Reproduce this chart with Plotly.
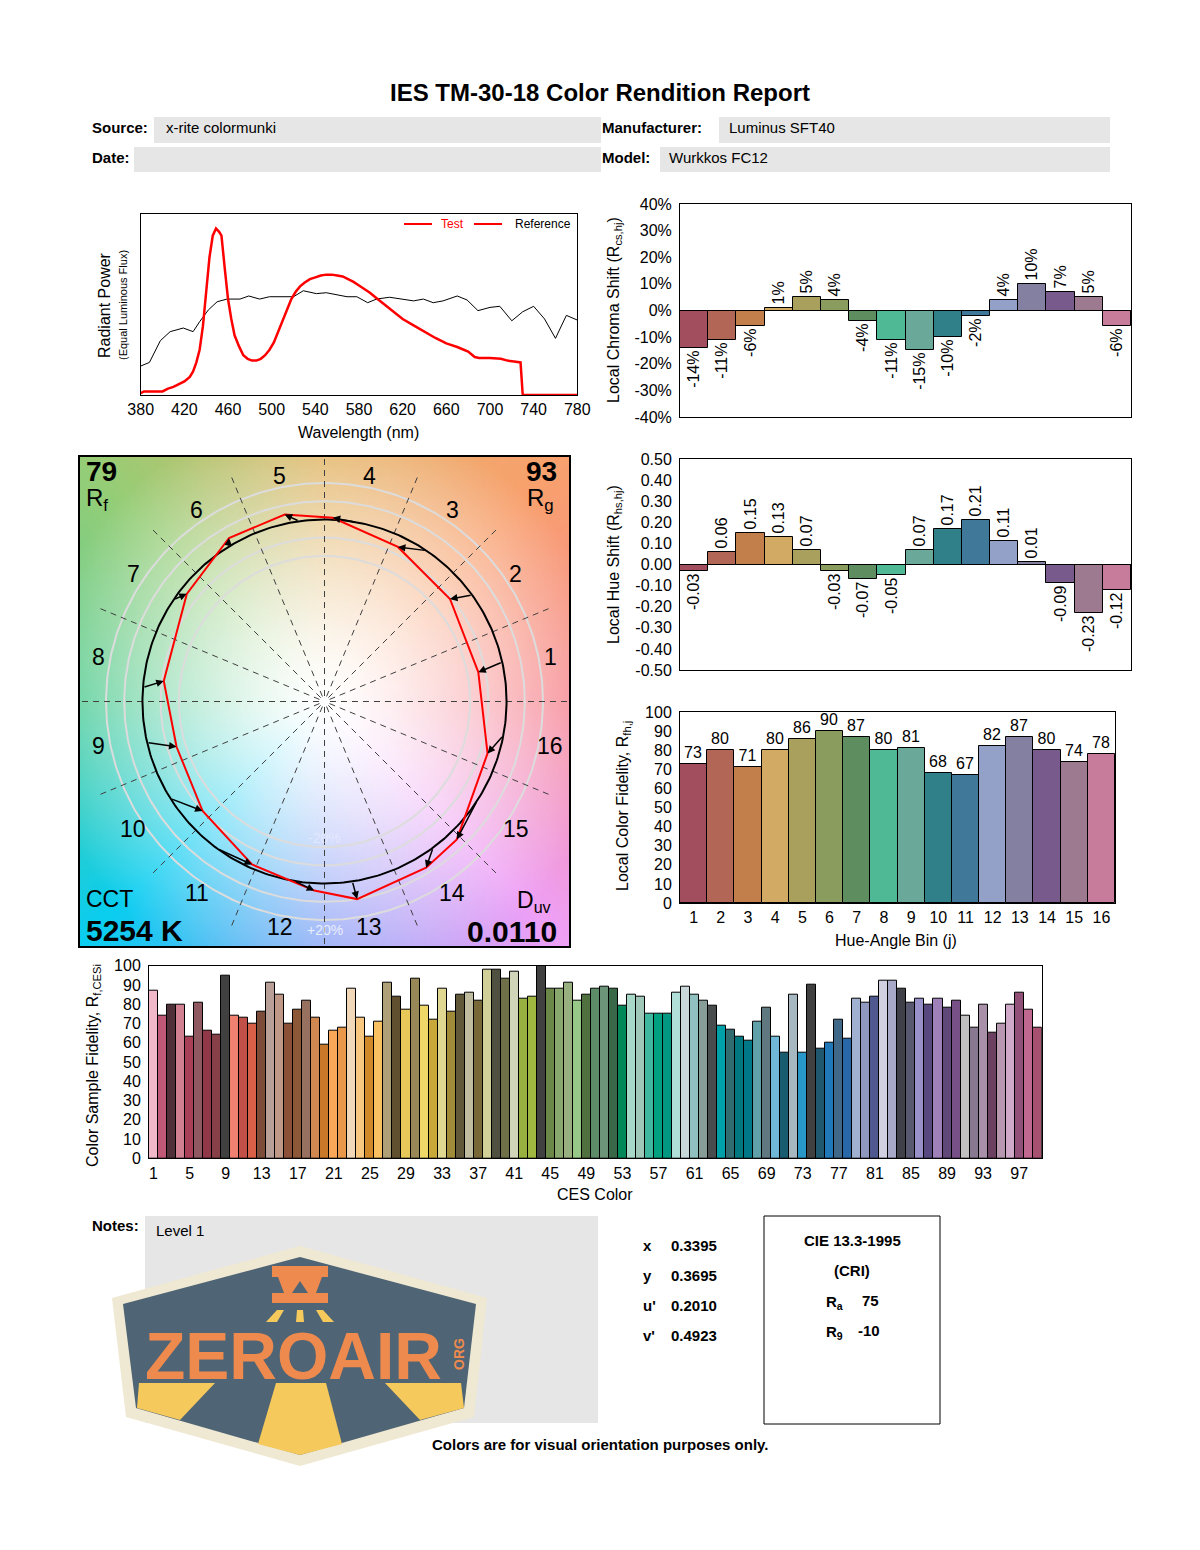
import numpy as np
import plotly.graph_objects as go

W, H = 1200, 1550
OFF = 8  # page body margin of the browser, compensated in every pixel position
FONT = "Liberation Sans, Arial, Helvetica, sans-serif"

# ---------------- data ----------------
wl_test = [380, 383, 400, 405, 410, 415, 420, 425, 428, 431, 434, 437, 440, 443, 446, 449, 452, 454, 457, 460,
           463, 466, 470, 474, 478, 482, 486, 490, 494, 498, 502, 506, 510, 514, 518, 522, 526, 530, 535, 540,
           545, 550, 555, 560, 565, 570, 575, 580, 585, 590, 595, 600, 610, 620, 630, 640, 650, 660, 670, 680,
           686, 690, 700, 710, 716, 722, 728, 730, 780]
test_spd = [0.01, 0.02, 0.02, 0.035, 0.045, 0.06, 0.075, 0.10, 0.13, 0.18, 0.25, 0.38, 0.58, 0.76, 0.88, 0.92, 0.90, 0.88, 0.70, 0.53,
            0.42, 0.33, 0.27, 0.22, 0.20, 0.19, 0.19, 0.20, 0.22, 0.25, 0.29, 0.35, 0.41, 0.48, 0.53, 0.57, 0.60, 0.62, 0.64, 0.65,
            0.66, 0.665, 0.665, 0.66, 0.655, 0.64, 0.625, 0.605, 0.585, 0.565, 0.54, 0.515, 0.465, 0.42, 0.385, 0.35, 0.315, 0.285, 0.265, 0.24,
            0.21, 0.205, 0.205, 0.20, 0.19, 0.185, 0.18, 0.0, 0.0]

wl_ref = [380, 388, 398, 407, 419, 428, 434, 442, 450, 459, 471, 479, 489, 498, 520, 529, 541, 550, 569, 578,
          588, 596, 608, 620, 630, 639, 648, 657, 670, 679, 689, 700, 709, 720, 730, 740, 750, 760, 770, 780]
ref_spd = [0.16, 0.18, 0.30, 0.35, 0.37, 0.35, 0.405, 0.47, 0.515, 0.53, 0.53, 0.547, 0.53, 0.543, 0.543, 0.576, 0.56, 0.565, 0.543, 0.543,
           0.51, 0.53, 0.54, 0.53, 0.52, 0.53, 0.51, 0.52, 0.547, 0.525, 0.466, 0.484, 0.49, 0.41, 0.46, 0.49, 0.42, 0.313, 0.44, 0.414]

bins = list(range(1, 17))
chroma_shift = [-0.14, -0.11, -0.06, 0.01, 0.05, 0.04, -0.04, -0.11, -0.15, -0.10, -0.02, 0.04, 0.10, 0.07, 0.05, -0.06]
hue_shift = [-0.03, 0.06, 0.15, 0.13, 0.07, -0.03, -0.07, -0.05, 0.07, 0.17, 0.21, 0.11, 0.01, -0.09, -0.23, -0.12]
fidelity = [73, 80, 71, 80, 86, 90, 87, 80, 81, 68, 67, 82, 87, 80, 74, 78]
bin_colors = ["#a24e5e", "#b26656", "#c37f4b", "#d2aa64", "#a9a05e", "#8a9c5e", "#5e8d5f", "#4fb996",
              "#6aa99a", "#30808a", "#3f7898", "#93a1c8", "#8480a1", "#785a8d", "#9e7a90", "#c67c9a"]
ref_hue_deg = [12.5, 35.8, 56, 80, 98, 122, 146, 175.6, 193, 212.2, 234, 260.6, 278.8, 306.6, 327, 349.2]

ces_values = [87, 74, 80, 80, 63, 81, 66, 64, 95, 74,
              73, 70, 76, 91, 85, 70, 77, 82, 73, 59,
              66, 68, 88, 73, 63, 71, 91, 84, 77, 93,
              79, 72, 88, 76, 85, 86, 82, 98, 98, 93,
              97, 83, 84, 100, 88, 88, 91, 82, 85, 88,
              89, 88, 79, 85, 84, 75, 75, 75, 86, 89,
              85, 82, 79, 69, 67, 63, 61, 71, 78, 63,
              55, 85, 55, 90, 57, 60, 72, 62, 83, 81,
              84, 92, 92, 88, 81, 83, 80, 83, 78, 82,
              74, 68, 80, 65, 70, 80, 86, 77, 68]
ces_colors = ["#f0b8c8", "#c05878", "#503038", "#d08090", "#a84058", "#905860", "#903848", "#884048", "#404040", "#f08070",
              "#c05048", "#d86048", "#7c4c38", "#b8a098", "#c09888", "#8c5038", "#8c5838", "#987060", "#d08850", "#c87828",
              "#f8a858", "#e89848", "#f0d8b8", "#f8c880", "#d08828", "#f8c060", "#b0a078", "#605030", "#e8c858", "#988858",
              "#f0d868", "#c8a838", "#e0d890", "#a08c38", "#605838", "#c0bca0", "#786838", "#d0d098", "#505040", "#707048",
              "#d0d4b8", "#98b040", "#a0b840", "#404040", "#6c8848", "#88a870", "#98b080", "#98c888", "#507040", "#5c8c68",
              "#6c9478", "#386848", "#008858", "#a8d8c8", "#a0c8b8", "#40b8a0", "#00a080", "#009880", "#b0e0d8", "#c8d8d8",
              "#90c0c0", "#889c98", "#484c4c", "#00a0a8", "#306c70", "#007880", "#007888", "#60a0a8", "#607880", "#70b8d8",
              "#185c70", "#a8b8c0", "#2898c8", "#404040", "#205870", "#2078b8", "#406888", "#2868a8", "#a0b0d0", "#9098c0",
              "#505890", "#d0d0e0", "#a8a8c8", "#404048", "#585870", "#9890c8", "#584880", "#a080b8", "#604878", "#785088",
              "#c0c0c0", "#887890", "#a890a8", "#6c4060", "#b898b0", "#d0a8c8", "#905078", "#c06890", "#a85070"]
ces_ticks = list(range(1, 100, 4))

chroma_ticks = [0.4, 0.3, 0.2, 0.1, 0.0, -0.1, -0.2, -0.3, -0.4]
chroma_ticktext = ["40%", "30%", "20%", "10%", "0%", "-10%", "-20%", "-30%", "-40%"]
hue_ticks = [0.5, 0.4, 0.3, 0.2, 0.1, 0.0, -0.1, -0.2, -0.3, -0.4, -0.5]
hue_ticktext = ["0.50", "0.40", "0.30", "0.20", "0.10", "0.00", "-0.10", "-0.20", "-0.30", "-0.40", "-0.50"]
spec_ticks = list(range(380, 781, 40))

Rf, Rg, CCT, Duv = "79", "93", "5254 K", "0.0110"
chrom = [("x", "0.3395"), ("y", "0.3695"), ("u'", "0.2010"), ("v'", "0.4923")]
Ra, R9 = "75", "-10"

# ---------------- helpers ----------------
def PX(x):
    return (x - OFF) / W

def PY(y):
    return 1 - (y - OFF) / H

def dx_(a, b):
    return [PX(a), PX(b)]

def dy_(top, bottom):
    return [PY(bottom), PY(top)]

ann = []
shapes = []

def txt(x, y, s, size=15, bold=False, color="black", xa="left", ya="middle", angle=0, family=FONT):
    ann.append(dict(x=PX(x), y=PY(y), xref="paper", yref="paper",
                    text=f"<b>{s}</b>" if bold else s, showarrow=False,
                    font=dict(size=size, color=color, family=family),
                    xanchor=xa, yanchor=ya, textangle=angle))

def rect(x0, y0, x1, y1, fill="#e6e6e6", line_color=None, lw=0, layer="below"):
    shapes.append(dict(type="rect", xref="paper", yref="paper",
                       x0=PX(x0), x1=PX(x1), y0=PY(y1), y1=PY(y0),
                       fillcolor=fill, line=dict(color=line_color or fill, width=lw), layer=layer))

def poly(pts, fill, layer="above"):
    d = "M " + " L ".join(f"{PX(x):.5f},{PY(y):.5f}" for x, y in pts) + " Z"
    shapes.append(dict(type="path", xref="paper", yref="paper", path=d,
                       fillcolor=fill, line=dict(width=0), layer=layer))

def hline(x0, x1, y, color, w=2):
    shapes.append(dict(type="line", xref="paper", yref="paper", x0=PX(x0), x1=PX(x1),
                       y0=PY(y), y1=PY(y), line=dict(color=color, width=w), layer="above"))

fig = go.Figure()

# ---------------- spectrum ----------------
fig.add_trace(go.Scatter(x=wl_ref, y=ref_spd, mode="lines", line=dict(color="black", width=1),
                         xaxis="x", yaxis="y", hoverinfo="skip"))
fig.add_trace(go.Scatter(x=wl_test, y=test_spd, mode="lines", line=dict(color="#ff0000", width=2.5),
                         xaxis="x", yaxis="y", hoverinfo="skip"))

# ---------------- vector graphic ----------------
LIM = 1.343
N = 161
c = np.linspace(-LIM, LIM, N)
X, Y = np.meshgrid(c, c)
R = np.hypot(X, Y)
TH = np.degrees(np.arctan2(Y, X)) % 360
anchor_deg = [0, 45, 90, 135, 180, 225, 270, 315, 360]
anchor_rgb = np.array([[246, 136, 146], [248, 160, 110], [226, 180, 100], [150, 205, 118],
                       [85, 205, 150], [10, 205, 240], [140, 165, 246], [238, 160, 246], [246, 136, 146]])
hue_rgb = np.stack([np.interp(TH, anchor_deg, anchor_rgb[:, k]) for k in range(3)], axis=-1)
S = np.clip(0.8 * (R / 1.343) ** 1.34, 0, 1)[..., None]
img = 255 * (1 - S) + hue_rgb * S
z = img.round().astype(np.uint8).tolist()
step = 2 * LIM / (N - 1)
fig.add_trace(go.Image(z=z, x0=-LIM, y0=-LIM, dx=step, dy=step, xaxis="x2", yaxis="y2",
                       hoverinfo="skip", zsmooth="fast"))

t = np.linspace(0, 2 * np.pi, 361)
for rr in [0.8, 0.9, 1.1, 1.2]:
    fig.add_trace(go.Scatter(x=rr * np.cos(t), y=rr * np.sin(t), mode="lines",
                             line=dict(color="#dcdcdc", width=2), xaxis="x2", yaxis="y2", hoverinfo="skip"))
lx, ly = [], []
for k in range(16):
    a = np.radians(k * 22.5)
    lx += [0.03 * np.cos(a), 1.335 * np.cos(a), None]
    ly += [0.03 * np.sin(a), 1.335 * np.sin(a), None]
fig.add_trace(go.Scatter(x=lx, y=ly, mode="lines", line=dict(color="#404040", width=1, dash="6px,5px"),
                         xaxis="x2", yaxis="y2", hoverinfo="skip"))
fig.add_trace(go.Scatter(x=np.cos(t), y=np.sin(t), mode="lines", line=dict(color="black", width=2),
                         xaxis="x2", yaxis="y2", hoverinfo="skip"))

ref_a = np.radians(ref_hue_deg)
test_a = ref_a + np.array(hue_shift)
test_r = 1 + np.array(chroma_shift)
tx = test_r * np.cos(test_a)
ty = test_r * np.sin(test_a)
fig.add_trace(go.Scatter(x=list(tx) + [tx[0]], y=list(ty) + [ty[0]], mode="lines",
                         line=dict(color="#ff0000", width=2), xaxis="x2", yaxis="y2", hoverinfo="skip"))
for k in range(16):
    ann.append(dict(x=tx[k], y=ty[k], ax=np.cos(ref_a[k]), ay=np.sin(ref_a[k]),
                    xref="x2", yref="y2", axref="x2", ayref="y2", text="", showarrow=True,
                    arrowhead=2, arrowsize=1, arrowwidth=1.5, arrowcolor="black", standoff=0))
for j in bins:
    a = np.radians((j - 0.5) * 22.5)
    ann.append(dict(x=1.265 * np.cos(a), y=1.265 * np.sin(a), xref="x2", yref="y2", text=str(j),
                    showarrow=False, font=dict(size=23, family=FONT, color="black")))
ann.append(dict(x=0, y=-1.255, xref="x2", yref="y2", text="+20%", showarrow=False,
                font=dict(size=14, family=FONT, color="rgba(255,255,255,0.75)")))
ann.append(dict(x=0, y=-0.75, xref="x2", yref="y2", text="-20%", showarrow=False,
                font=dict(size=14, family=FONT, color="rgba(255,255,255,0.35)")))

txt(84, 472, Rf, size=28, bold=True)
txt(84, 499, "R<sub>f</sub>", size=24)
txt(559, 472, Rg, size=28, bold=True, xa="right")
txt(556, 499, "R<sub>g</sub>", size=24, xa="right")
txt(84, 899, "CCT", size=23)
txt(84, 930, CCT, size=30, bold=True)
txt(553, 901, "D<sub>uv</sub>", size=23, xa="right")
txt(559, 931, Duv, size=30, bold=True, xa="right")

# ---------------- bin charts ----------------
bar_line = dict(color="black", width=1)
fig.add_trace(go.Bar(x=bins, y=chroma_shift, marker=dict(color=bin_colors, line=bar_line),
                     text=[f"{round(v * 100):d}%" for v in chroma_shift], textposition="outside",
                     textangle=-90, constraintext="none", cliponaxis=False,
                     textfont=dict(size=16, family=FONT, color="black"),
                     xaxis="x3", yaxis="y3", hoverinfo="skip"))
fig.add_trace(go.Bar(x=bins, y=hue_shift, marker=dict(color=bin_colors, line=bar_line),
                     text=[f"{v:.2f}" for v in hue_shift], textposition="outside",
                     textangle=-90, constraintext="none", cliponaxis=False,
                     textfont=dict(size=16, family=FONT, color="black"),
                     xaxis="x4", yaxis="y4", hoverinfo="skip"))
fig.add_trace(go.Bar(x=bins, y=fidelity, marker=dict(color=bin_colors, line=bar_line),
                     text=[str(v) for v in fidelity], textposition="outside", textangle=0,
                     constraintext="none", cliponaxis=False,
                     textfont=dict(size=16, family=FONT, color="black"),
                     xaxis="x5", yaxis="y5", hoverinfo="skip"))

# ---------------- CES chart ----------------
fig.add_trace(go.Bar(x=list(range(1, 100)), y=ces_values, marker=dict(color=ces_colors, line=bar_line),
                     xaxis="x6", yaxis="y6", hoverinfo="skip"))

# ---------------- axes ----------------
tf = dict(size=16, family=FONT, color="black")
box = dict(showline=True, mirror=True, linecolor="black", linewidth=1, showgrid=False,
           tickfont=tf, ticks="", automargin=False)

layout_axes = dict(
    xaxis=dict(domain=dx_(140.7, 577.3), anchor="y", range=[380, 780], tickvals=spec_ticks, zeroline=False, **box),
    yaxis=dict(domain=dy_(214, 395), anchor="x", range=[0, 1], showticklabels=False, zeroline=False, **box),
    xaxis2=dict(domain=dx_(80, 569), anchor="y2", range=[-LIM, LIM], showticklabels=False, automargin=False,
                showline=True, mirror=True, linecolor="black", linewidth=1.5, showgrid=False, zeroline=False),
    yaxis2=dict(domain=dy_(457, 946), anchor="x2", range=[-LIM, LIM], autorange=False, showticklabels=False,
                automargin=False,
                showline=True, mirror=True, linecolor="black", linewidth=1.5, showgrid=False, zeroline=False),
    xaxis3=dict(domain=dx_(680, 1131), anchor="y3", range=[0.5, 16.5], showticklabels=False, zeroline=False, **box),
    yaxis3=dict(domain=dy_(204, 417), anchor="x3", range=[-0.4, 0.4], tickvals=chroma_ticks,
                ticktext=chroma_ticktext, ticklabelstandoff=4, zeroline=True,
                zerolinecolor="black", zerolinewidth=1, **box),
    xaxis4=dict(domain=dx_(680, 1131), anchor="y4", range=[0.5, 16.5], showticklabels=False, zeroline=False, **box),
    yaxis4=dict(domain=dy_(459, 670), anchor="x4", range=[-0.5, 0.5], tickvals=hue_ticks,
                ticktext=hue_ticktext, ticklabelstandoff=4, zeroline=True,
                zerolinecolor="black", zerolinewidth=1, **box),
    xaxis5=dict(domain=dx_(680, 1115), anchor="y5", range=[0.5, 16.5], tickvals=bins, zeroline=False, **box),
    yaxis5=dict(domain=dy_(712, 903), anchor="x5", range=[0, 100], tickvals=list(range(0, 101, 10)),
                ticklabelstandoff=4, zeroline=False, **box),
    xaxis6=dict(domain=dx_(149, 1041.7), anchor="y6", range=[0.5, 99.5], tickvals=ces_ticks, zeroline=False, **box),
    yaxis6=dict(domain=dy_(965.7, 1158.3), anchor="x6", range=[0, 100], tickvals=list(range(0, 101, 10)),
                ticklabelstandoff=4, zeroline=False, **box),
)

# ---------------- titles / text ----------------
txt(600, 92, "IES TM-30-18 Color Rendition Report", size=24, bold=True, xa="center")
rect(154, 117, 601, 143)
rect(719, 117, 1110, 143)
rect(134, 147, 601, 172)
rect(660, 147, 1110, 172)
txt(90, 127, "Source:", bold=True)
txt(164, 127, "x-rite colormunki")
txt(90, 157, "Date:", bold=True)
txt(600, 127, "Manufacturer:", bold=True)
txt(727, 127, "Luminus SFT40")
txt(600, 157, "Model:", bold=True)
txt(667, 157, "Wurkkos FC12")

# spectrum labels
txt(104, 305, "Radiant Power", size=16, xa="center", angle=-90)
txt(123, 305, "(Equal Luminous Flux)", size=11, xa="center", angle=-90)
txt(358, 432, "Wavelength (nm)", size=16, xa="center")
hline(404, 432, 224, "#ff0000", 2)
txt(439, 224, "Test", size=12, color="#ff0000")
hline(474, 502, 224, "#ff0000", 2)
txt(513, 224, "Reference", size=12)

# right chart titles
txt(614, 310, "Local Chroma Shift (R<sub>cs,hj</sub>)", size=16, xa="center", angle=-90)
txt(614, 565, "Local Hue Shift (R<sub>hs,hj</sub>)", size=16, xa="center", angle=-90)
txt(623, 806, "Local Color Fidelity, R<sub>fh,j</sub>", size=16, xa="center", angle=-90)
txt(896, 940, "Hue-Angle Bin (j)", size=16, xa="center")
txt(93, 1066, "Color Sample Fidelity, R<sub>f,CESi</sub>", size=16, xa="center", angle=-90)
txt(595, 1194, "CES Color", size=16, xa="center")

# bottom section
rect(145, 1216, 598, 1423)
txt(90, 1225, "Notes:", bold=True)
txt(154, 1230, "Level 1")
for i, (lab, val) in enumerate(chrom):
    yy = 1245 + 30 * i
    txt(641, yy, lab, bold=True)
    txt(669, yy, val, bold=True)
rect(764, 1216, 940, 1424, fill="rgba(0,0,0,0)", line_color="black", lw=1, layer="above")
txt(852, 1240, "CIE 13.3-1995", bold=True, xa="center")
txt(852, 1270, "(CRI)", bold=True, xa="center")
txt(824, 1302, "R<sub>a</sub>", bold=True)
txt(860, 1300, Ra, bold=True)
txt(824, 1332, "R<sub>9</sub>", bold=True)
txt(856, 1330, R9, bold=True)
txt(600, 1444, "Colors are for visual orientation purposes only.", bold=True, xa="center")

# logo
CREAM, SLATE, ORANGE, YELLOW = "#efe8d2", "#4f6474", "#ee8a4e", "#f5c95c"
poly([(300, 1246), (487, 1298), (474, 1417), (300, 1466), (126, 1417), (112, 1298)], CREAM)
poly([(300, 1257), (476, 1304), (464, 1408), (300, 1455), (136, 1408), (123, 1304)], SLATE)
poly([(139, 1383), (215, 1383), (180, 1420), (137, 1408)], YELLOW)
poly([(276, 1383), (326, 1383), (342, 1444), (300, 1455), (258, 1444)], YELLOW)
poly([(385, 1383), (461, 1383), (464, 1408), (420, 1420)], YELLOW)
poly([(272, 1266), (328, 1266), (328, 1277), (272, 1277)], ORANGE)
poly([(278, 1277), (322, 1277), (316, 1293), (284, 1293)], ORANGE)
poly([(300, 1281), (292, 1293), (308, 1293)], SLATE)
poly([(272, 1293), (328, 1293), (328, 1303), (272, 1303)], ORANGE)
poly([(266, 1322), (277, 1310), (284, 1310), (277, 1322)], YELLOW)
poly([(297, 1310), (303, 1310), (304, 1322), (296, 1322)], YELLOW)
poly([(316, 1310), (323, 1310), (334, 1322), (323, 1322)], YELLOW)
txt(293, 1356, "ZEROAIR", size=66, bold=True, color=ORANGE, xa="center")
txt(459, 1354, "ORG", size=14, bold=True, color=ORANGE, xa="center", angle=-90)

fig.update_layout(width=W, height=H, margin=dict(l=0, r=0, t=0, b=0, pad=0, autoexpand=False),
                  paper_bgcolor="white", plot_bgcolor="white", showlegend=False,
                  bargap=0, annotations=ann, shapes=shapes,
                  font=dict(family=FONT, color="black"), **layout_axes)

fig.write_html("out.html")
